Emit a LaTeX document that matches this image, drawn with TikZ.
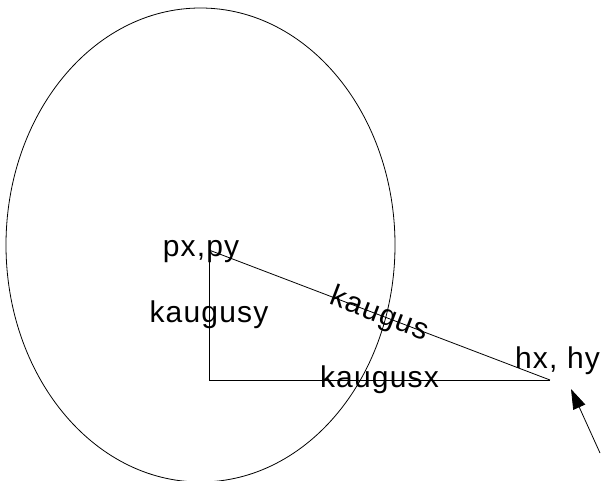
\documentclass[tikz,border=0pt]{standalone}
\usepackage{fontspec}
\setmainfont{Liberation Sans}[LetterSpace=4]
\usepackage{tikz}
\usetikzlibrary{positioning, arrows.meta}

\begin{document}
\begin{tikzpicture}[x=1pt, y=-1pt, line width=0.8pt,
  lbl/.style={font=\fontsize{30}{35}\selectfont, inner sep=0pt}]
\useasboundingbox (0,0) rectangle (602,481);

% the circle
\draw (200.5,245) ellipse [x radius=194.5, y radius=237];

\coordinate(p) at (209,250);
\coordinate(c) at (209,380);
\coordinate(h) at (550,380);

\node(pxy)[lbl, anchor=base] at (201,256){px,py};
\node(hxy)[lbl, anchor=base] at (557.5,368){hx, hy};

\draw (p) -- node(ky)[lbl]{kaugusy} (c);
\draw (c) -- node(kx)[lbl]{kaugusx} (h);
\draw (p) -- node(k)[lbl, sloped]{kaugus} (h);

\coordinate(tip) at (571,389);
\coordinate(tail) at (600,453);
\draw[-{Triangle[length=20pt, width=13pt]}] (tail) -- (tip);
\end{tikzpicture}
\end{document}
